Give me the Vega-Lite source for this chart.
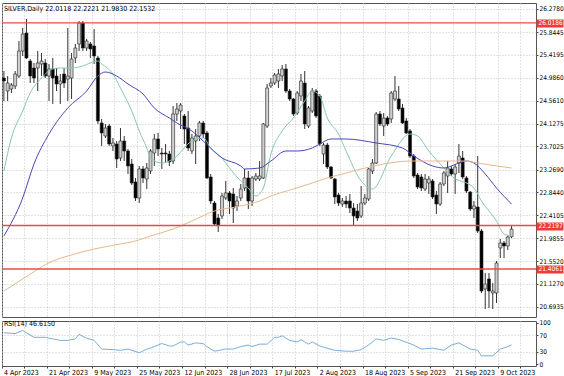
{
  "$schema": "https://vega.github.io/schema/vega-lite/v6.json",
  "padding": {"left": 0, "top": 2, "right": 0, "bottom": 0},
  "background": "white",
  "spacing": 1,
  "config": {
    "view": {"stroke": "#555", "strokeWidth": 1},
    "axis": {"labelFont": "Liberation Sans Narrow, DejaVu Sans Condensed, Liberation Sans, sans-serif", "labelFontSize": 6.5, "labelColor": "#000", "domain": false, "labelOverlap": false},
    "title": {"font": "Liberation Sans Narrow, DejaVu Sans Condensed, Liberation Sans, sans-serif", "fontSize": 7, "fontWeight": "normal", "color": "#000"},
    "text": {"font": "Liberation Sans Narrow, DejaVu Sans Condensed, Liberation Sans, sans-serif", "fontSize": 7, "color": "#000"}
  },
  "resolve": {"scale": {"x": "shared"}},
  "datasets": {
    "candles": [
      {"d":"2023-04-04","o":24.985,"h":25.116,"l":24.554,"c":24.929},
      {"d":"2023-04-05","o":24.741,"h":25.022,"l":24.554,"c":24.891},
      {"d":"2023-04-06","o":24.779,"h":24.891,"l":24.704,"c":24.854},
      {"d":"2023-04-10","o":24.835,"h":25.116,"l":24.779,"c":25.060},
      {"d":"2023-04-11","o":25.022,"h":25.678,"l":24.985,"c":25.491},
      {"d":"2023-04-12","o":25.491,"h":25.922,"l":25.397,"c":25.809},
      {"d":"2023-04-13","o":25.828,"h":26.091,"l":25.341,"c":25.360},
      {"d":"2023-04-14","o":25.303,"h":25.341,"l":24.891,"c":25.022},
      {"d":"2023-04-17","o":25.172,"h":25.266,"l":24.891,"c":24.985},
      {"d":"2023-04-18","o":25.172,"h":25.491,"l":24.741,"c":25.266},
      {"d":"2023-04-19","o":25.247,"h":25.453,"l":25.022,"c":25.303},
      {"d":"2023-04-20","o":25.266,"h":25.341,"l":24.985,"c":25.022},
      {"d":"2023-04-21","o":25.022,"h":25.247,"l":24.554,"c":25.154},
      {"d":"2023-04-24","o":25.154,"h":25.360,"l":24.498,"c":24.985},
      {"d":"2023-04-25","o":25.022,"h":25.172,"l":24.741,"c":24.872},
      {"d":"2023-04-26","o":24.872,"h":25.060,"l":24.498,"c":24.929},
      {"d":"2023-04-27","o":25.060,"h":25.172,"l":24.798,"c":24.891},
      {"d":"2023-04-28","o":24.966,"h":25.922,"l":24.554,"c":25.022},
      {"d":"2023-05-01","o":24.985,"h":25.453,"l":24.591,"c":25.341},
      {"d":"2023-05-02","o":25.360,"h":25.622,"l":25.266,"c":25.547},
      {"d":"2023-05-03","o":25.622,"h":26.053,"l":25.491,"c":26.016},
      {"d":"2023-05-04","o":26.016,"h":26.053,"l":25.491,"c":25.547},
      {"d":"2023-05-05","o":25.547,"h":25.716,"l":25.491,"c":25.678},
      {"d":"2023-05-08","o":25.622,"h":25.660,"l":25.360,"c":25.528},
      {"d":"2023-05-09","o":25.585,"h":25.903,"l":25.247,"c":25.397},
      {"d":"2023-05-10","o":25.360,"h":25.397,"l":24.123,"c":24.179},
      {"d":"2023-05-11","o":24.142,"h":24.217,"l":23.711,"c":23.954},
      {"d":"2023-05-12","o":23.898,"h":24.123,"l":23.860,"c":24.048},
      {"d":"2023-05-15","o":24.085,"h":24.123,"l":23.711,"c":23.748},
      {"d":"2023-05-16","o":23.711,"h":23.860,"l":23.617,"c":23.767},
      {"d":"2023-05-17","o":23.748,"h":23.804,"l":23.298,"c":23.467},
      {"d":"2023-05-18","o":23.486,"h":24.048,"l":23.429,"c":23.804},
      {"d":"2023-05-19","o":23.804,"h":23.898,"l":23.429,"c":23.617},
      {"d":"2023-05-22","o":23.617,"h":23.654,"l":23.186,"c":23.336},
      {"d":"2023-05-23","o":23.373,"h":23.467,"l":22.980,"c":23.017},
      {"d":"2023-05-24","o":23.036,"h":23.111,"l":22.680,"c":22.736},
      {"d":"2023-05-25","o":22.736,"h":23.336,"l":22.642,"c":23.280},
      {"d":"2023-05-26","o":23.280,"h":23.336,"l":23.017,"c":23.111},
      {"d":"2023-05-29","o":23.092,"h":23.392,"l":22.905,"c":23.298},
      {"d":"2023-05-30","o":23.242,"h":23.654,"l":23.186,"c":23.617},
      {"d":"2023-05-31","o":23.579,"h":23.935,"l":23.336,"c":23.842},
      {"d":"2023-06-01","o":23.842,"h":23.954,"l":23.523,"c":23.654},
      {"d":"2023-06-02","o":23.579,"h":23.673,"l":23.280,"c":23.561},
      {"d":"2023-06-05","o":23.579,"h":23.748,"l":23.392,"c":23.561},
      {"d":"2023-06-06","o":23.561,"h":23.617,"l":23.336,"c":23.411},
      {"d":"2023-06-07","o":23.429,"h":24.460,"l":23.373,"c":24.310},
      {"d":"2023-06-08","o":24.310,"h":24.516,"l":24.179,"c":24.404},
      {"d":"2023-06-09","o":24.366,"h":24.516,"l":24.029,"c":24.479},
      {"d":"2023-06-12","o":24.273,"h":24.310,"l":23.748,"c":24.029},
      {"d":"2023-06-13","o":24.048,"h":24.366,"l":23.617,"c":23.673},
      {"d":"2023-06-14","o":23.617,"h":23.935,"l":23.561,"c":23.860},
      {"d":"2023-06-15","o":23.804,"h":24.029,"l":23.373,"c":23.898},
      {"d":"2023-06-16","o":23.898,"h":24.179,"l":23.804,"c":24.142},
      {"d":"2023-06-19","o":24.142,"h":24.179,"l":23.860,"c":23.935},
      {"d":"2023-06-20","o":23.954,"h":23.992,"l":23.092,"c":23.111},
      {"d":"2023-06-21","o":23.130,"h":23.186,"l":22.623,"c":22.680},
      {"d":"2023-06-22","o":22.642,"h":22.680,"l":22.211,"c":22.249},
      {"d":"2023-06-23","o":22.361,"h":22.436,"l":22.099,"c":22.230},
      {"d":"2023-06-26","o":22.399,"h":22.830,"l":22.342,"c":22.773},
      {"d":"2023-06-27","o":22.736,"h":23.055,"l":22.698,"c":22.830},
      {"d":"2023-06-28","o":22.830,"h":22.867,"l":22.436,"c":22.680},
      {"d":"2023-06-29","o":22.811,"h":22.923,"l":22.267,"c":22.548},
      {"d":"2023-06-30","o":22.586,"h":22.773,"l":22.492,"c":22.680},
      {"d":"2023-07-03","o":22.736,"h":22.998,"l":22.680,"c":22.905},
      {"d":"2023-07-05","o":22.923,"h":23.280,"l":22.867,"c":23.111},
      {"d":"2023-07-06","o":23.111,"h":23.242,"l":22.530,"c":22.680},
      {"d":"2023-07-07","o":22.680,"h":23.148,"l":22.586,"c":23.111},
      {"d":"2023-07-10","o":23.092,"h":23.205,"l":23.055,"c":23.148},
      {"d":"2023-07-11","o":23.092,"h":23.429,"l":23.055,"c":23.148},
      {"d":"2023-07-12","o":23.111,"h":24.142,"l":23.092,"c":24.123},
      {"d":"2023-07-13","o":24.085,"h":24.872,"l":24.048,"c":24.798},
      {"d":"2023-07-14","o":24.835,"h":24.985,"l":24.798,"c":24.891},
      {"d":"2023-07-17","o":24.891,"h":25.079,"l":24.854,"c":25.041},
      {"d":"2023-07-18","o":24.929,"h":25.154,"l":24.798,"c":25.060},
      {"d":"2023-07-19","o":25.022,"h":25.229,"l":24.929,"c":25.154},
      {"d":"2023-07-20","o":25.154,"h":25.247,"l":24.704,"c":24.741},
      {"d":"2023-07-21","o":24.741,"h":24.779,"l":24.554,"c":24.591},
      {"d":"2023-07-24","o":24.591,"h":24.610,"l":24.273,"c":24.310},
      {"d":"2023-07-25","o":24.329,"h":24.741,"l":24.291,"c":24.704},
      {"d":"2023-07-26","o":24.648,"h":25.060,"l":24.554,"c":24.929},
      {"d":"2023-07-27","o":24.891,"h":25.116,"l":24.029,"c":24.123},
      {"d":"2023-07-28","o":24.085,"h":24.460,"l":24.048,"c":24.423},
      {"d":"2023-07-31","o":24.366,"h":24.798,"l":24.329,"c":24.741},
      {"d":"2023-08-01","o":24.741,"h":24.779,"l":24.235,"c":24.273},
      {"d":"2023-08-02","o":24.648,"h":24.685,"l":23.711,"c":23.748},
      {"d":"2023-08-03","o":23.561,"h":23.767,"l":23.373,"c":23.729},
      {"d":"2023-08-04","o":23.729,"h":23.767,"l":23.280,"c":23.317},
      {"d":"2023-08-07","o":23.317,"h":23.336,"l":23.092,"c":23.111},
      {"d":"2023-08-08","o":23.092,"h":23.111,"l":22.623,"c":22.755},
      {"d":"2023-08-09","o":22.792,"h":22.830,"l":22.586,"c":22.642},
      {"d":"2023-08-10","o":22.623,"h":22.736,"l":22.567,"c":22.680},
      {"d":"2023-08-11","o":22.680,"h":22.773,"l":22.548,"c":22.623},
      {"d":"2023-08-14","o":22.680,"h":22.811,"l":22.455,"c":22.548},
      {"d":"2023-08-15","o":22.548,"h":22.642,"l":22.211,"c":22.399},
      {"d":"2023-08-16","o":22.492,"h":22.623,"l":22.305,"c":22.361},
      {"d":"2023-08-17","o":22.399,"h":22.961,"l":22.361,"c":22.642},
      {"d":"2023-08-18","o":22.642,"h":22.811,"l":22.605,"c":22.736},
      {"d":"2023-08-21","o":22.717,"h":23.298,"l":22.680,"c":23.280},
      {"d":"2023-08-22","o":23.242,"h":23.467,"l":23.186,"c":23.392},
      {"d":"2023-08-23","o":23.392,"h":24.348,"l":23.373,"c":24.310},
      {"d":"2023-08-24","o":24.310,"h":24.366,"l":24.085,"c":24.123},
      {"d":"2023-08-25","o":24.085,"h":24.329,"l":23.898,"c":24.235},
      {"d":"2023-08-28","o":24.235,"h":24.273,"l":24.085,"c":24.123},
      {"d":"2023-08-29","o":24.217,"h":24.741,"l":24.142,"c":24.704},
      {"d":"2023-08-30","o":24.591,"h":25.022,"l":24.554,"c":24.741},
      {"d":"2023-08-31","o":24.591,"h":24.835,"l":24.366,"c":24.404},
      {"d":"2023-09-01","o":24.423,"h":24.498,"l":24.123,"c":24.142},
      {"d":"2023-09-04","o":24.179,"h":24.235,"l":23.935,"c":23.954},
      {"d":"2023-09-05","o":23.992,"h":24.029,"l":23.486,"c":23.523},
      {"d":"2023-09-06","o":23.523,"h":23.561,"l":23.111,"c":23.148},
      {"d":"2023-09-07","o":23.167,"h":23.205,"l":22.905,"c":22.942},
      {"d":"2023-09-08","o":23.130,"h":23.186,"l":22.867,"c":22.923},
      {"d":"2023-09-11","o":22.905,"h":23.186,"l":22.867,"c":23.092},
      {"d":"2023-09-12","o":23.017,"h":23.148,"l":22.811,"c":23.092},
      {"d":"2023-09-13","o":23.055,"h":23.092,"l":22.717,"c":22.755},
      {"d":"2023-09-14","o":22.792,"h":22.867,"l":22.436,"c":22.623},
      {"d":"2023-09-15","o":22.623,"h":23.036,"l":22.586,"c":22.998},
      {"d":"2023-09-18","o":22.998,"h":23.242,"l":22.961,"c":23.205},
      {"d":"2023-09-19","o":23.148,"h":23.429,"l":22.830,"c":23.298},
      {"d":"2023-09-20","o":23.280,"h":23.336,"l":23.148,"c":23.186},
      {"d":"2023-09-21","o":23.186,"h":23.373,"l":22.811,"c":23.317},
      {"d":"2023-09-22","o":23.392,"h":23.748,"l":23.205,"c":23.523},
      {"d":"2023-09-25","o":23.486,"h":23.617,"l":23.092,"c":23.130},
      {"d":"2023-09-26","o":23.111,"h":23.148,"l":22.830,"c":22.867},
      {"d":"2023-09-27","o":22.848,"h":22.867,"l":22.492,"c":22.530},
      {"d":"2023-09-28","o":22.530,"h":22.680,"l":22.361,"c":22.586},
      {"d":"2023-09-29","o":22.567,"h":23.523,"l":22.080,"c":22.118},
      {"d":"2023-10-02","o":22.118,"h":22.155,"l":20.955,"c":20.993},
      {"d":"2023-10-03","o":21.030,"h":21.330,"l":20.656,"c":21.124},
      {"d":"2023-10-04","o":21.218,"h":21.330,"l":20.674,"c":20.993},
      {"d":"2023-10-05","o":20.955,"h":21.143,"l":20.656,"c":20.993},
      {"d":"2023-10-06","o":20.955,"h":21.555,"l":20.768,"c":21.518},
      {"d":"2023-10-09","o":21.799,"h":21.968,"l":21.612,"c":21.893},
      {"d":"2023-10-10","o":21.893,"h":21.930,"l":21.612,"c":21.837},
      {"d":"2023-10-11","o":21.837,"h":22.024,"l":21.762,"c":22.005},
      {"d":"2023-10-12","o":22.0118,"h":22.2221,"l":21.9830,"c":22.1532}
    ],
    "ma": [
      {"d":"2023-04-04","s":"fast","v":23.242},{"d":"2023-04-06","s":"fast","v":23.860},{"d":"2023-04-12","s":"fast","v":24.366},{"d":"2023-04-14","s":"fast","v":24.704},{"d":"2023-04-19","s":"fast","v":24.985},{"d":"2023-04-24","s":"fast","v":25.154},{"d":"2023-04-26","s":"fast","v":25.172},{"d":"2023-05-01","s":"fast","v":25.172},{"d":"2023-05-04","s":"fast","v":25.210},{"d":"2023-05-08","s":"fast","v":25.266},{"d":"2023-05-10","s":"fast","v":25.303},{"d":"2023-05-11","s":"fast","v":25.247},{"d":"2023-05-16","s":"fast","v":25.060},{"d":"2023-05-18","s":"fast","v":24.798},{"d":"2023-05-23","s":"fast","v":24.366},{"d":"2023-05-25","s":"fast","v":23.992},{"d":"2023-05-29","s":"fast","v":23.673},{"d":"2023-05-30","s":"fast","v":23.486},{"d":"2023-06-02","s":"fast","v":23.392},{"d":"2023-06-07","s":"fast","v":23.467},{"d":"2023-06-14","s":"fast","v":23.804},{"d":"2023-06-19","s":"fast","v":23.860},{"d":"2023-06-21","s":"fast","v":23.673},{"d":"2023-06-26","s":"fast","v":23.486},{"d":"2023-06-28","s":"fast","v":23.298},{"d":"2023-07-03","s":"fast","v":23.055},{"d":"2023-07-06","s":"fast","v":22.923},{"d":"2023-07-10","s":"fast","v":22.773},{"d":"2023-07-12","s":"fast","v":22.923},{"d":"2023-07-14","s":"fast","v":23.561},{"d":"2023-07-19","s":"fast","v":23.992},{"d":"2023-07-24","s":"fast","v":24.235},{"d":"2023-07-27","s":"fast","v":24.554},{"d":"2023-07-31","s":"fast","v":24.741},{"d":"2023-08-02","s":"fast","v":24.648},{"d":"2023-08-04","s":"fast","v":24.235},{"d":"2023-08-09","s":"fast","v":23.935},{"d":"2023-08-11","s":"fast","v":23.617},{"d":"2023-08-17","s":"fast","v":23.055},{"d":"2023-08-22","s":"fast","v":22.905},{"d":"2023-08-29","s":"fast","v":23.523},{"d":"2023-09-05","s":"fast","v":23.935},{"d":"2023-09-07","s":"fast","v":23.898},{"d":"2023-09-12","s":"fast","v":23.617},{"d":"2023-09-18","s":"fast","v":23.298},{"d":"2023-09-20","s":"fast","v":23.148},{"d":"2023-09-28","s":"fast","v":22.923},{"d":"2023-10-02","s":"fast","v":22.680},{"d":"2023-10-06","s":"fast","v":22.305},{"d":"2023-10-10","s":"fast","v":22.061},{"d":"2023-10-12","s":"fast","v":22.024},
      {"d":"2023-04-04","s":"mid","v":22.024},{"d":"2023-04-12","s":"mid","v":22.736},{"d":"2023-04-17","s":"mid","v":23.373},{"d":"2023-04-21","s":"mid","v":23.935},{"d":"2023-04-28","s":"mid","v":24.423},{"d":"2023-05-05","s":"mid","v":24.741},{"d":"2023-05-10","s":"mid","v":25.022},{"d":"2023-05-12","s":"mid","v":25.097},{"d":"2023-05-17","s":"mid","v":25.022},{"d":"2023-05-22","s":"mid","v":24.872},{"d":"2023-05-26","s":"mid","v":24.685},{"d":"2023-05-31","s":"mid","v":24.423},{"d":"2023-06-06","s":"mid","v":24.235},{"d":"2023-06-08","s":"mid","v":24.142},{"d":"2023-06-14","s":"mid","v":23.992},{"d":"2023-06-19","s":"mid","v":23.804},{"d":"2023-06-26","s":"mid","v":23.486},{"d":"2023-07-03","s":"mid","v":23.336},{"d":"2023-07-05","s":"mid","v":23.280},{"d":"2023-07-11","s":"mid","v":23.298},{"d":"2023-07-14","s":"mid","v":23.429},{"d":"2023-07-20","s":"mid","v":23.617},{"d":"2023-07-25","s":"mid","v":23.617},{"d":"2023-07-31","s":"mid","v":23.673},{"d":"2023-08-02","s":"mid","v":23.748},{"d":"2023-08-07","s":"mid","v":23.842},{"d":"2023-08-11","s":"mid","v":23.842},{"d":"2023-08-23","s":"mid","v":23.767},{"d":"2023-09-01","s":"mid","v":23.673},{"d":"2023-09-06","s":"mid","v":23.523},{"d":"2023-09-13","s":"mid","v":23.336},{"d":"2023-09-18","s":"mid","v":23.298},{"d":"2023-09-22","s":"mid","v":23.392},{"d":"2023-09-26","s":"mid","v":23.429},{"d":"2023-09-28","s":"mid","v":23.392},{"d":"2023-10-03","s":"mid","v":23.186},{"d":"2023-10-06","s":"mid","v":22.923},{"d":"2023-10-12","s":"mid","v":22.623},
      {"d":"2023-04-04","s":"slow","v":20.993},{"d":"2023-04-12","s":"slow","v":21.218},{"d":"2023-04-24","s":"slow","v":21.555},{"d":"2023-04-28","s":"slow","v":21.649},{"d":"2023-05-09","s":"slow","v":21.780},{"d":"2023-05-18","s":"slow","v":21.874},{"d":"2023-05-24","s":"slow","v":21.930},{"d":"2023-05-30","s":"slow","v":22.024},{"d":"2023-06-07","s":"slow","v":22.155},{"d":"2023-06-14","s":"slow","v":22.305},{"d":"2023-06-22","s":"slow","v":22.492},{"d":"2023-07-03","s":"slow","v":22.586},{"d":"2023-07-11","s":"slow","v":22.680},{"d":"2023-07-14","s":"slow","v":22.773},{"d":"2023-07-24","s":"slow","v":22.905},{"d":"2023-07-31","s":"slow","v":23.017},{"d":"2023-08-04","s":"slow","v":23.111},{"d":"2023-08-11","s":"slow","v":23.205},{"d":"2023-08-17","s":"slow","v":23.280},{"d":"2023-08-25","s":"slow","v":23.373},{"d":"2023-09-05","s":"slow","v":23.429},{"d":"2023-09-18","s":"slow","v":23.429},{"d":"2023-09-25","s":"slow","v":23.429},{"d":"2023-09-29","s":"slow","v":23.392},{"d":"2023-10-06","s":"slow","v":23.336},{"d":"2023-10-12","s":"slow","v":23.298}
    ],
    "levels": [{"level": 26.0186}, {"level": 22.2197}, {"level": 21.4061}],
    "rsi": [
      {"d":"2023-04-04","v":75.9},{"d":"2023-04-10","v":73.7},{"d":"2023-04-12","v":81.1},{"d":"2023-04-17","v":64.8},{"d":"2023-04-20","v":64.8},{"d":"2023-04-24","v":61.1},{"d":"2023-04-26","v":57.4},{"d":"2023-04-28","v":57.4},{"d":"2023-05-02","v":61.1},{"d":"2023-05-03","v":72.2},{"d":"2023-05-05","v":62.6},{"d":"2023-05-09","v":57.4},{"d":"2023-05-11","v":36.7},{"d":"2023-05-16","v":35.2},{"d":"2023-05-18","v":33.7},{"d":"2023-05-22","v":36.7},{"d":"2023-05-25","v":27.8},{"d":"2023-05-29","v":36.7},{"d":"2023-05-30","v":38.9},{"d":"2023-06-02","v":50},{"d":"2023-06-06","v":44},{"d":"2023-06-07","v":44},{"d":"2023-06-09","v":53.7},{"d":"2023-06-12","v":53.7},{"d":"2023-06-13","v":46.3},{"d":"2023-06-15","v":51.5},{"d":"2023-06-19","v":50},{"d":"2023-06-20","v":42.6},{"d":"2023-06-22","v":31.5},{"d":"2023-06-27","v":36.7},{"d":"2023-06-29","v":36.7},{"d":"2023-07-03","v":42.6},{"d":"2023-07-06","v":46.3},{"d":"2023-07-07","v":42.6},{"d":"2023-07-11","v":48.5},{"d":"2023-07-13","v":48.5},{"d":"2023-07-17","v":64.8},{"d":"2023-07-18","v":64.8},{"d":"2023-07-19","v":68.5},{"d":"2023-07-21","v":57.4},{"d":"2023-07-25","v":53.7},{"d":"2023-07-26","v":58.9},{"d":"2023-07-28","v":48.5},{"d":"2023-07-31","v":53.7},{"d":"2023-08-02","v":44},{"d":"2023-08-03","v":41.1},{"d":"2023-08-08","v":33.7},{"d":"2023-08-11","v":31.5},{"d":"2023-08-15","v":31.5},{"d":"2023-08-17","v":35.2},{"d":"2023-08-21","v":46.3},{"d":"2023-08-23","v":61.1},{"d":"2023-08-25","v":57.4},{"d":"2023-08-29","v":63.3},{"d":"2023-08-31","v":59.6},{"d":"2023-09-06","v":46.3},{"d":"2023-09-08","v":36.7},{"d":"2023-09-13","v":38.9},{"d":"2023-09-18","v":33.7},{"d":"2023-09-20","v":46.3},{"d":"2023-09-22","v":51.5},{"d":"2023-09-27","v":36.7},{"d":"2023-09-29","v":33.7},{"d":"2023-10-02","v":20.4},{"d":"2023-10-05","v":20.4},{"d":"2023-10-09","v":36.7},{"d":"2023-10-11","v":42.6},{"d":"2023-10-12","v":46.6}
    ],
    "rsilabel": [{"d": "2023-04-04", "v": 104, "label": "RSI(14) 46.6150"}]
  },
  "vconcat": [
    {
      "width": 534,
      "height": 314,
      "title": {"text": "SILVER,Daily  22.0118 22.2221 21.9830 22.1532", "anchor": "start", "frame": "group", "offset": -9, "dx": 2},
      "resolve": {"axis": {"y": "independent"}},
      "layer": [
        {
          "data": {"name": "candles"},
          "mark": {"type": "rule", "color": "#333", "strokeWidth": 1},
          "encoding": {
            "x": {"field": "d", "type": "ordinal", "title": null,
              "scale": {"type": "band", "paddingInner": 0, "paddingOuter": 0, "domain": {"unionWith": ["2023-10-13","2023-10-16","2023-10-17","2023-10-18","2023-10-19","2023-10-20"]}},
              "axis": {"labels": false, "ticks": false, "domain": false, "grid": true, "gridDash": [1, 2], "gridColor": "#c4c4c4", "bandPosition": 0, "title": null,
                "values": ["2023-04-04","2023-04-13","2023-04-21","2023-05-01","2023-05-09","2023-05-17","2023-05-25","2023-06-02","2023-06-12","2023-06-20","2023-06-28","2023-07-07","2023-07-17","2023-07-25","2023-08-02","2023-08-10","2023-08-18","2023-08-28","2023-09-05","2023-09-13","2023-09-21","2023-09-29","2023-10-09","2023-10-17"]}},
            "y": {"field": "l", "type": "quantitative", "title": null,
              "scale": {"domain": [20.5058, 26.3904], "nice": false, "zero": false},
              "axis": {"orient": "right", "format": ".4f", "labelOverlap": false, "labelFlush": false, "labelBaseline": "middle", "title": null,
                "values": [26.278, 25.8445, 25.4195, 24.986, 24.561, 24.1275, 23.7025, 23.269, 22.844, 22.4105, 21.9855, 21.552, 21.127, 20.6935, 26.0186, 22.2197, 21.4061],
                "grid": true, "gridDash": [1, 2], "gridColor": "#c4c4c4",
                "gridOpacity": {"condition": {"test": "datum.value == 26.0186 || datum.value == 22.2197 || datum.value == 21.4061", "value": 0}, "value": 1},
                "tickColor": {"condition": {"test": "datum.value == 26.0186 || datum.value == 22.2197 || datum.value == 21.4061", "value": "#ee3b36"}, "value": "#444"},
                "tickWidth": {"condition": {"test": "datum.value == 26.0186 || datum.value == 22.2197 || datum.value == 21.4061", "value": 8}, "value": 1},
                "tickSize": {"condition": {"test": "datum.value == 26.0186 || datum.value == 22.2197 || datum.value == 21.4061", "value": 27}, "value": 2},
                "labelPadding": {"condition": {"test": "datum.value == 26.0186 || datum.value == 22.2197 || datum.value == 21.4061", "value": -25}, "value": 1},
                "labelColor": {"condition": {"test": "datum.value == 26.0186 || datum.value == 22.2197 || datum.value == 21.4061", "value": "#ffffff"}, "value": "#000"}
              }},
            "y2": {"field": "h"}
          }
        },
        {
          "data": {"name": "candles"},
          "mark": {"type": "bar", "width": {"band": 0.8}, "stroke": "#222", "strokeWidth": 0.6},
          "encoding": {
            "x": {"field": "d", "type": "ordinal", "scale": {"type": "band"}, "title": null},
            "y": {"field": "o", "type": "quantitative", "title": null, "axis": null},
            "y2": {"field": "c"},
            "fill": {"condition": {"test": "datum.c >= datum.o", "value": "#cfcfcf"}, "value": "#000"}
          }
        },
        {
          "data": {"name": "ma"},
          "mark": {"type": "line", "strokeWidth": 1, "interpolate": "monotone"},
          "encoding": {
            "x": {"field": "d", "type": "ordinal", "scale": {"type": "band"}, "title": null},
            "y": {"field": "v", "type": "quantitative", "title": null, "axis": null},
            "detail": {"field": "s"},
            "color": {"field": "s", "type": "nominal", "legend": null, "scale": {"domain": ["fast", "mid", "slow"], "range": ["#86c9ae", "#4848b8", "#e6b88e"]}}
          }
        },
        {
          "data": {"name": "levels"},
          "mark": {"type": "rule", "color": "#ee4a44", "strokeWidth": 1.4},
          "encoding": {
            "y": {"field": "level", "type": "quantitative", "title": null, "axis": null}
          }
        }
      ]
    },
    {
      "width": 534,
      "height": 45,
      "resolve": {"axis": {"y": "independent"}},
      "layer": [
        {
          "data": {"name": "rsi"},
          "mark": {"type": "line", "color": "#7aaedc", "strokeWidth": 1},
          "encoding": {
            "x": {"field": "d", "type": "ordinal", "title": null,
              "scale": {"type": "band", "paddingInner": 0, "paddingOuter": 0, "domain": {"unionWith": ["2023-10-13","2023-10-16","2023-10-17","2023-10-18","2023-10-19","2023-10-20"]}},
              "axis": {"grid": true, "gridDash": [1, 2], "gridColor": "#c4c4c4", "bandPosition": 0, "domain": false, "ticks": true, "tickSize": 2, "tickColor": "#444", "title": null,
                "labelAlign": "left", "labelBaseline": "top", "labelPadding": 0, "labelFontSize": 7, "labelAngle": 0, "labelOverlap": false, "labelFlush": false, "labelBound": false,
                "values": ["2023-04-04","2023-04-13","2023-04-21","2023-05-01","2023-05-09","2023-05-17","2023-05-25","2023-06-02","2023-06-12","2023-06-20","2023-06-28","2023-07-07","2023-07-17","2023-07-25","2023-08-02","2023-08-10","2023-08-18","2023-08-28","2023-09-05","2023-09-13","2023-09-21","2023-09-29","2023-10-09","2023-10-17"],
                "labelExpr": "indexof(['2023-04-04','2023-04-21','2023-05-09','2023-05-25','2023-06-12','2023-06-28','2023-07-17','2023-08-02','2023-08-18','2023-09-05','2023-09-21','2023-10-09'], datum.value) >= 0 ? utcFormat(toDate(datum.value), '%-d %b %Y') : ''"}},
            "y": {"field": "v", "type": "quantitative", "title": null,
              "scale": {"domain": [-4, 104], "nice": false, "zero": false},
              "axis": {"orient": "right", "values": [0, 30, 70, 100], "grid": true, "gridDash": [1, 2], "gridColor": "#c4c4c4", "title": null,
                "gridOpacity": {"condition": {"test": "datum.value == 30 || datum.value == 70", "value": 1}, "value": 0},
                "tickSize": 2, "tickColor": "#444", "labelPadding": 1, "labelOverlap": false, "labelFlush": false}}
          }
        },
        {
          "data": {"name": "rsilabel"},
          "mark": {"type": "text", "align": "left", "baseline": "top", "dx": 0, "dy": -1},
          "encoding": {
            "x": {"field": "d", "type": "ordinal", "scale": {"type": "band"}, "title": null},
            "y": {"field": "v", "type": "quantitative", "title": null, "axis": null},
            "text": {"field": "label"}
          }
        }
      ]
    }
  ]
}
